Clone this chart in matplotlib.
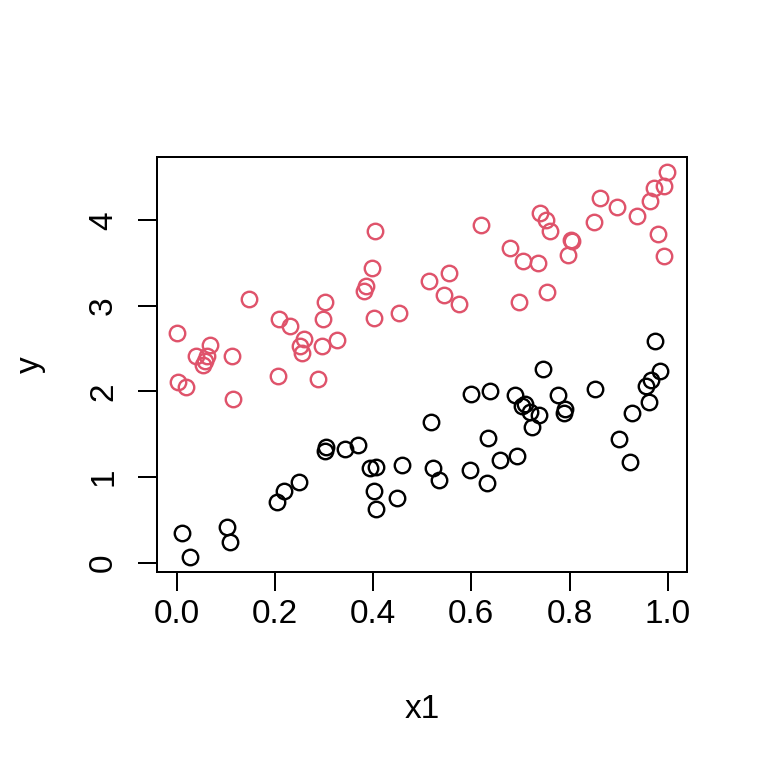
import numpy as np
import matplotlib.pyplot as plt

plt.rcParams['font.family'] = ['Liberation Sans', 'DejaVu Sans']

# group 1 (black)
x1_a = [0.010, 0.027, 0.102, 0.109, 0.205, 0.219, 0.250, 0.302, 0.305, 0.343,
        0.369, 0.394, 0.405, 0.458, 0.401, 0.405, 0.449, 0.517, 0.521, 0.534,
        0.597, 0.600, 0.632, 0.633, 0.637, 0.658, 0.688, 0.692, 0.703, 0.709,
        0.720, 0.723, 0.737, 0.745, 0.777, 0.788, 0.791, 0.851, 0.900, 0.923,
        0.928, 0.955, 0.962, 0.966, 0.974, 0.983]
y_a = [0.35, 0.07, 0.42, 0.24, 0.71, 0.84, 0.94, 1.31, 1.35, 1.33,
       1.37, 1.10, 1.12, 1.14, 0.84, 0.63, 0.75, 1.64, 1.10, 0.96,
       1.08, 1.97, 0.93, 1.46, 2.01, 1.20, 1.96, 1.24, 1.83, 1.85,
       1.76, 1.59, 1.73, 2.26, 1.96, 1.75, 1.80, 2.03, 1.45, 1.18,
       1.75, 2.06, 1.88, 2.13, 2.59, 2.24]

# group 2 (red)
x1_b = [0.000, 0.003, 0.020, 0.039, 0.053, 0.058, 0.062, 0.068, 0.113, 0.114,
        0.148, 0.206, 0.208, 0.231, 0.251, 0.255, 0.259, 0.287, 0.295, 0.297,
        0.303, 0.326, 0.381, 0.386, 0.397, 0.401, 0.404, 0.453, 0.513, 0.544,
        0.555, 0.574, 0.620, 0.678, 0.696, 0.706, 0.735, 0.739, 0.752, 0.754,
        0.760, 0.796, 0.802, 0.804, 0.849, 0.861, 0.896, 0.937, 0.963, 0.971,
        0.980, 0.993, 0.993, 0.999]
y_b = [2.68, 2.11, 2.05, 2.41, 2.31, 2.36, 2.41, 2.54, 2.42, 1.91,
       3.08, 2.18, 2.85, 2.77, 2.53, 2.45, 2.61, 2.14, 2.53, 2.85,
       3.04, 2.60, 3.17, 3.23, 3.44, 2.86, 3.87, 2.92, 3.29, 3.13,
       3.39, 3.02, 3.94, 3.68, 3.04, 3.52, 3.50, 4.09, 4.00, 3.16,
       3.88, 3.59, 3.77, 3.76, 3.98, 4.26, 4.15, 4.05, 4.22, 4.38,
       3.84, 4.40, 3.58, 4.56]

xticks = [0.0, 0.2, 0.4, 0.6, 0.8, 1.0]
xticklabels = ['0.0', '0.2', '0.4', '0.6', '0.8', '1.0']
yticks = [0, 1, 2, 3, 4]

fig = plt.figure(figsize=(4, 4), dpi=192)
ax = fig.add_axes([157/768, 1 - 572/768, 530/768, 415/768])

ax.plot(x1_a, y_a, 'o', mfc='none', mec='black', ms=5.8, mew=0.9)
ax.plot(x1_b, y_b, 'o', mfc='none', mec='#DF536B', ms=5.8, mew=0.9)

# R style 4% padding
allx = np.concatenate([x1_a, x1_b])
ally = np.concatenate([y_a, y_b])
rx = allx.max() - allx.min()
ry = ally.max() - ally.min()
ax.set_xlim(allx.min() - 0.04*rx, allx.max() + 0.04*rx)
ax.set_ylim(ally.min() - 0.04*ry, ally.max() + 0.04*ry)

ax.set_xticks(xticks)
ax.set_xticklabels(xticklabels)
ax.set_yticks(yticks)
ax.set_yticklabels([str(v) for v in yticks], rotation=90, va='center')
ax.tick_params(direction='out', length=7.2, width=0.75, labelsize=12.5, pad=3)
ax.tick_params(axis='y', pad=7)
for s in ax.spines.values():
    s.set_linewidth(0.75)

ax.set_xlabel('x1', fontsize=12.5, va='center')
ax.set_ylabel('y', fontsize=12.5, va='center')
ax.xaxis.set_label_coords(0.5, (572 - 710) / 415)
ax.yaxis.set_label_coords((30 - 157) / 530, 0.5)

fig.savefig('out.png', dpi=192)
